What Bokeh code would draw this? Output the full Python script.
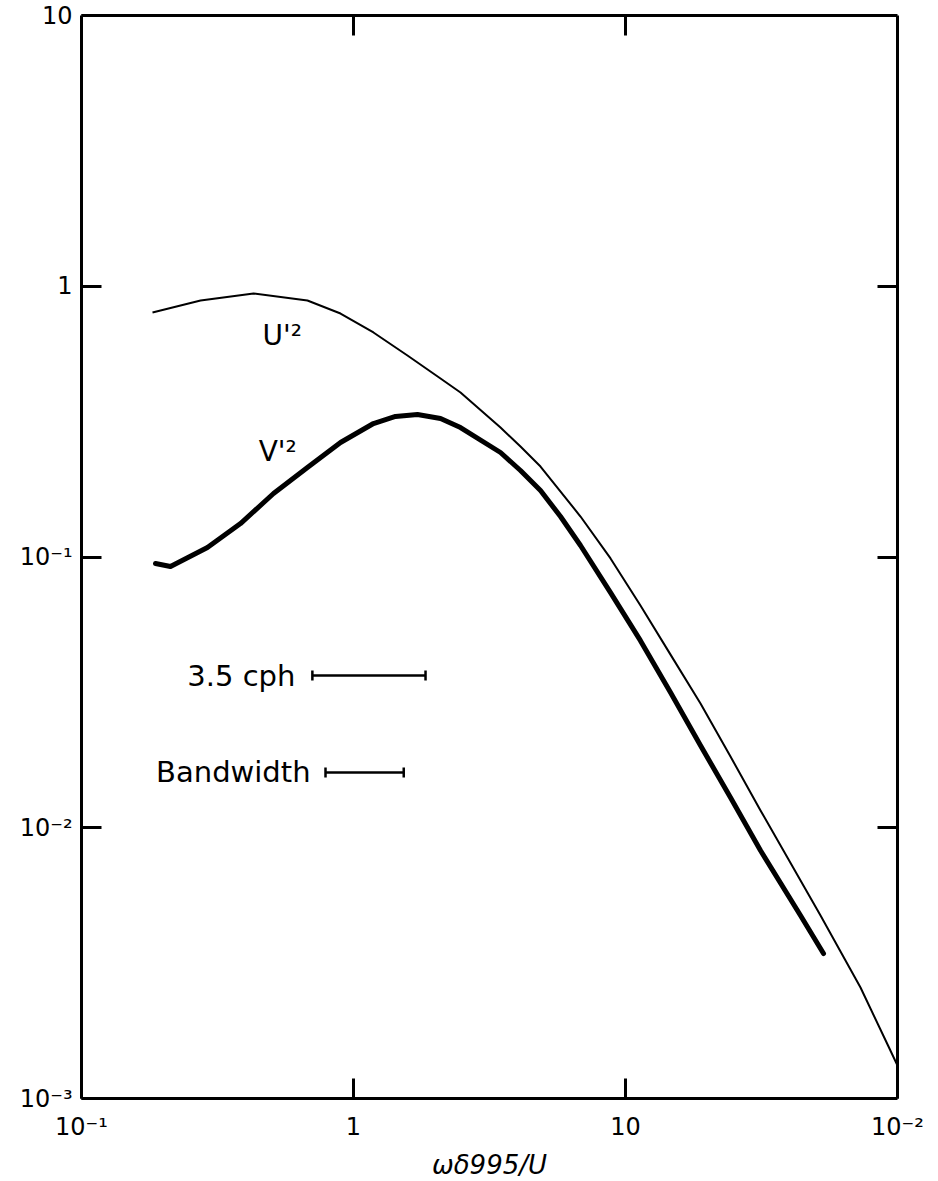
from bokeh.plotting import figure
from bokeh.models import LogAxis, FixedTicker, Label
from bokeh.embed import file_html
from bokeh.resources import INLINE

# U'^2 spectrum
u_x = [0.1824, 0.274, 0.429, 0.677, 0.896, 1.184, 1.579, 2.089, 2.474, 3.471, 4.111, 4.870, 6.833,
       8.81, 11.35, 14.64, 18.87, 24.32, 31.36, 52.12, 73.11, 92.67, 100.0]
u_y = [0.800, 0.886, 0.940, 0.886, 0.793, 0.675, 0.555, 0.4564, 0.4051, 0.3008, 0.2559, 0.2159, 0.1411,
       0.0988, 0.0662, 0.0436, 0.02876, 0.01833, 0.01158, 0.00474, 0.00257, 0.001556, 0.001324]

# V'^2 spectrum
v_x = [0.1871, 0.2124, 0.2904, 0.3842, 0.5081, 0.677, 0.896, 1.184, 1.427, 1.719, 2.089, 2.474,
       3.471, 4.111, 4.870, 5.768, 6.833, 8.81, 11.35, 14.64, 18.87, 24.32, 31.36, 44.0, 53.45]
v_y = [0.0946, 0.0922, 0.1084, 0.1329, 0.1716, 0.2141, 0.2648, 0.3112, 0.3304, 0.3360, 0.3247, 0.3008,
       0.2432, 0.2087, 0.1760, 0.1411, 0.1103, 0.0739, 0.0491, 0.0316, 0.02012, 0.01294, 0.00824,
       0.00474, 0.00343]

# resolution bars
cph_x = [0.706, 1.84]
cph_y = [0.0365, 0.0365]
bw_x = [0.789, 1.53]
bw_y = [0.0160, 0.0160]

x_ticks = [0.1, 1.0, 10.0, 100.0]
x_tick_labels = ["10⁻¹", "1", "10", "10⁻²"]
y_ticks = [0.001, 0.01, 0.1, 1.0, 10.0]
y_tick_labels = ["10⁻³", "10⁻²", "10⁻¹", "1", "10"]

FONT = "DejaVu Sans"

p = figure(x_axis_type="log", y_axis_type="log",
           x_range=(0.1, 100), y_range=(0.001, 10),
           frame_width=816, frame_height=1083,
           min_border_left=81, min_border_top=15, min_border_right=30, min_border_bottom=0,
           output_backend="svg", toolbar_location=None)
p.outline_line_color = None
p.background_fill_color = "white"
p.border_fill_color = "white"
p.grid.visible = False

def style_axis(ax, ticks):
    ax.ticker = FixedTicker(ticks=ticks, minor_ticks=[])
    ax.major_tick_in = 20
    ax.major_tick_out = 0
    ax.major_tick_line_width = 3
    ax.major_tick_line_color = "black"
    ax.minor_tick_line_color = None
    ax.axis_line_width = 3
    ax.axis_line_color = "black"
    ax.major_label_text_font = FONT
    ax.major_label_text_font_size = "24px"
    ax.major_label_text_color = "black"

xa = p.xaxis[0]
style_axis(xa, x_ticks)
xa.major_label_overrides = dict(zip(x_ticks, x_tick_labels))
xa.major_label_standoff = 14
xa.axis_label = "ωδ995/U"
xa.axis_label_text_font = FONT
xa.axis_label_text_font_style = "italic"
xa.axis_label_text_font_size = "26px"
xa.axis_label_text_color = "black"
xa.axis_label_standoff = 6

ya = p.yaxis[0]
style_axis(ya, y_ticks)
ya.major_label_overrides = dict(zip(y_ticks, y_tick_labels))
ya.major_label_standoff = 9

top = LogAxis()
style_axis(top, [1.0, 10.0])
top.major_label_text_font_size = "1px"
top.major_label_text_color = None
top.major_label_standoff = 0
p.add_layout(top, "above")

right = LogAxis()
style_axis(right, [0.01, 0.1, 1.0])
right.major_label_text_font_size = "1px"
right.major_label_text_color = None
right.major_label_standoff = 0
p.add_layout(right, "right")

p.line(u_x, u_y, line_color="black", line_width=2, line_join="round")
p.line(v_x, v_y, line_color="black", line_width=5, line_cap="round", line_join="round")

p.line(cph_x, cph_y, line_color="black", line_width=2.5)
p.scatter(cph_x, cph_y, marker="dash", angle=1.5708, size=10, line_width=2.5, line_color="black")
p.line(bw_x, bw_y, line_color="black", line_width=2.5)
p.scatter(bw_x, bw_y, marker="dash", angle=1.5708, size=10, line_width=2.5, line_color="black")

def lab(x, y, text, size, align="left", xoff=0):
    p.add_layout(Label(x=x, y=y, text=text, text_font=FONT, text_font_size=size,
                       text_align=align, text_baseline="middle", x_offset=xoff,
                       text_color="black"))

lab(0.463, 0.66, "U'²", "28px")
lab(0.448, 0.245, "V'²", "28px")
lab(cph_x[0], cph_y[0], "3.5 cph", "29px", align="right", xoff=-17)
lab(bw_x[0], bw_y[0], "Bandwidth", "29px", align="right", xoff=-15)

open("out.html", "w").write(file_html(p, INLINE))
